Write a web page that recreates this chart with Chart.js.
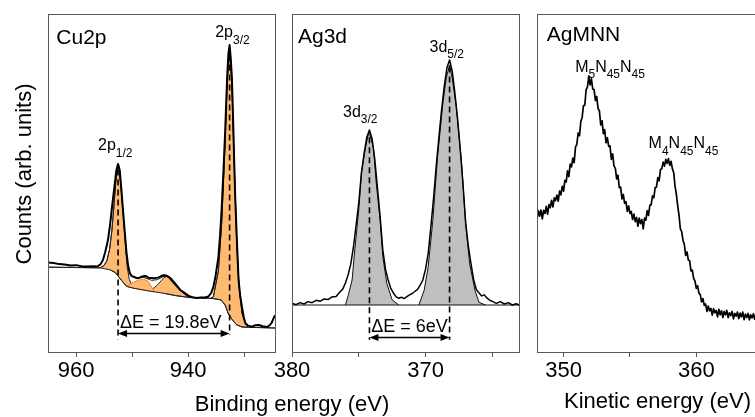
<!DOCTYPE html>
<html><head><meta charset="utf-8">
<script src="https://cdn.jsdelivr.net/npm/chart.js@4.4.0/dist/chart.umd.min.js"></script>
<style>
html,body{margin:0;padding:0;background:#fff;}
#wrap{position:relative;width:755px;height:417px;overflow:hidden;background:#fff;font-family:"Liberation Sans",Arial,sans-serif;color:#000;}
canvas{position:absolute;top:0;}
.t{position:absolute;font-size:22px;line-height:22px;height:22px;white-space:nowrap;text-align:center;}
</style></head><body>
<div id="wrap">
<canvas id="c1" width="287" height="417" style="left:18px"></canvas>
<canvas id="c2" width="287" height="417" style="left:262px"></canvas>
<canvas id="c3" width="287" height="417" style="left:507px"></canvas>
<div class="t" style="left:-101px;top:162.5px;width:250px;transform:rotate(-90deg);">Counts (arb. units)</div>
<div class="t" style="left:92px;top:392.9px;width:400px;">Binding energy (eV)</div>
<div class="t" style="left:457.5px;top:389.7px;width:400px;">Kinetic energy (eV)</div>
</div>
<script>
// ================= DATA =================
// tick values / labels
const cuTicks = [960, 950, 940, 930];
const cuTickLabels = [960, 940];
const agTicks = [380, 375, 370, 365];
const agTickLabels = [380, 370];
const mnnTicks = [350, 355, 360, 365];
const mnnTickLabels = [350, 360];

// Cu2p: [binding energy (eV), counts (arb.)]
const cuData = [[965.0,26.5],[964.0,26.3],[963.0,26.0],[962.0,25.9],[961.0,25.6],[960.0,25.7],[959.0,25.4],[958.0,25.3],[957.0,25.4],[956.2,25.3],[955.6,26.0],[955.2,27.2],[954.8,29.5],[954.3,33.1],[953.9,38.0],[953.5,44.0],[953.1,49.5],[952.8,53.8],[952.5,55.6],[952.2,53.8],[951.9,47.9],[951.6,41.5],[951.3,35.5],[951.0,29.5],[950.7,25.5],[950.4,23.3],[950.1,22.5],[949.6,22.2],[949.0,21.8],[948.5,22.1],[948.0,22.4],[947.6,22.5],[947.1,22.0],[946.6,21.9],[946.0,21.8],[945.4,22.0],[944.9,22.4],[944.4,22.7],[943.9,22.6],[943.4,22.1],[942.9,21.1],[942.4,20.2],[941.9,19.3],[941.4,18.3],[940.9,17.8],[940.4,17.2],[939.8,16.5],[939.2,16.2],[938.5,16.0],[937.8,16.1],[937.0,16.1],[936.4,16.4],[935.9,17.4],[935.5,19.2],[935.1,22.5],[934.6,28.1],[934.3,34.5],[934.0,42.9],[933.7,53.5],[933.4,64.8],[933.2,74.0],[933.0,82.5],[932.8,88.5],[932.6,90.8],[932.4,87.0],[932.2,81.4],[932.0,70.5],[931.8,57.7],[931.6,46.0],[931.3,33.1],[931.0,21.3],[930.7,16.5],[930.4,13.4],[930.1,10.5],[929.8,8.6],[929.3,7.8],[928.6,7.5],[928.0,7.9],[927.4,8.0],[926.7,7.6],[925.9,7.4],[925.4,8.0],[925.1,8.6],[924.8,9.8],[924.5,10.9]];
const cuBackground = [[965.0,25.1],[955.7,24.9],[953.9,24.3],[953.0,23.5],[952.5,22.5],[951.8,21.0],[950.95,19.4],[949.5,18.8],[946.8,18.0],[944.1,17.3],[942.3,16.7],[939.6,16.1],[935.5,15.8],[934.1,15.4],[933.4,13.9],[932.8,11.2],[932.1,9.5],[931.4,8.1],[930.4,7.4],[924.5,7.1]];
const cuFit = [[965,25.1],[955.7,24.9],[955,25.6],[954.5,27.0],[954,30.5],[953.6,36.0],[953.2,44.0],[952.9,50.5],[952.6,54.3],[952.45,55.0],[952.3,54.0],[952.0,49.5],[951.6,41.0],[951.2,32.8],[950.9,27.2],[950.5,24.0],[950.0,22.4],[949.3,21.8],[948.5,22.0],[948.0,22.1],[947.2,21.6],[946.5,21.2],[945.5,21.4],[944.5,22.2],[943.7,22.6],[943.0,21.9],[942.0,19.9],[941.0,17.6],[940.0,16.3],[938.0,16.0],[936.0,15.9],[935.5,16.3],[934.6,24.0],[934.0,38.5],[933.4,62.1],[933.0,81.4],[932.6,88.5],[932.2,80.5],[931.8,56.8],[931.3,31.1],[930.9,19.2],[930.4,11.6],[929.8,8.5],[929.3,7.3],[924.5,7.1]];
const cuPeak12 = [[955.7,24.9],[955.0,25.6],[954.5,27.0],[954.0,30.5],[953.6,36.0],[953.2,44.0],[952.9,50.5],[952.6,54.3],[952.45,55.0],[952.3,54.0],[952.0,49.5],[951.6,41.0],[951.2,32.0],[950.9,25.5],[950.5,21.5],[950.0,19.6],[949.5,18.8]];
const cuSat1 = [[950.95,19.4],[949.8,20.6],[948.9,21.2],[948.0,21.6],[947.1,20.9],[946.5,19.2],[946.0,17.8]];
const cuSat2 = [[946.8,18.0],[945.5,19.8],[944.3,22.0],[943.6,22.5],[943.0,21.9],[942.0,19.8],[940.8,17.4],[939.6,16.1]];
const cuPeak32 = [[936.0,15.9],[935.5,16.3],[934.6,24.0],[934.0,38.5],[933.4,62.1],[933.0,81.4],[932.6,88.5],[932.2,80.5],[931.8,56.8],[931.3,31.1],[930.9,19.2],[930.4,11.6],[929.8,8.5],[929.3,7.3]];

// Ag3d
const agData = [[380.0,14.4],[379.7,14.0],[379.4,14.6],[379.1,14.2],[378.8,14.9],[378.5,14.6],[378.2,15.3],[377.9,15.0],[377.6,15.7],[377.3,15.5],[377.0,16.3],[376.7,16.4],[376.4,17.8],[376.2,18.6],[376.0,20.4],[375.8,22.8],[375.6,26.0],[375.4,31.0],[375.2,37.5],[375.0,44.1],[374.8,53.0],[374.6,58.8],[374.4,63.5],[374.2,65.7],[374.0,63.0],[373.8,57.0],[373.6,48.5],[373.4,40.0],[373.2,30.2],[373.0,24.5],[372.8,21.3],[372.6,18.8],[372.4,17.4],[372.2,16.3],[372.0,15.9],[371.8,16.2],[371.6,15.8],[371.4,16.4],[371.2,16.9],[371.0,17.3],[370.8,17.9],[370.6,18.5],[370.4,19.8],[370.2,21.3],[370.0,24.5],[369.8,29.2],[369.6,37.0],[369.4,45.5],[369.2,55.0],[369.0,63.5],[368.8,71.5],[368.6,78.5],[368.4,84.0],[368.2,86.4],[368.0,83.0],[367.8,76.5],[367.6,69.0],[367.4,60.0],[367.2,50.0],[367.0,38.5],[366.8,31.5],[366.6,26.2],[366.4,21.5],[366.2,18.5],[366.0,17.5],[365.8,16.6],[365.6,16.9],[365.4,16.0],[365.2,15.3],[365.0,15.0],[364.7,14.4],[364.4,14.9],[364.1,14.2],[363.8,14.6],[363.5,13.9],[363.2,14.3],[363.0,13.9]];
const agBackground = [[380.0,13.9],[363.0,13.9]];
const agPeak32 = [[376.0,13.9],[375.8,16.6],[375.5,21.3],[375.3,30.2],[375.0,42.0],[374.8,52.9],[374.5,60.4],[374.3,64.2],[374.2,64.8],[373.9,60.4],[373.7,50.4],[373.4,39.0],[373.2,28.2],[372.9,20.3],[372.5,15.4],[372.0,13.9]];
const agPeak52 = [[370.5,13.9],[370.1,18.3],[369.8,25.2],[369.45,39.0],[369.1,57.8],[368.7,73.6],[368.45,81.0],[368.2,84.9],[368.0,81.0],[367.7,72.7],[367.3,55.8],[367.0,38.1],[366.7,26.2],[366.3,18.3],[366.0,14.7],[365.5,13.9]];

// AgMNN: [kinetic energy (eV), counts]
const mnnData = [[348.0,39.2],[348.1,41.8],[348.2,40.2],[348.3,42.0],[348.4,39.4],[348.5,41.9],[348.6,41.0],[348.7,43.1],[348.8,40.8],[348.9,43.6],[349.0,42.7],[349.1,44.9],[349.2,42.9],[349.3,45.6],[349.4,44.8],[349.5,46.4],[349.6,44.6],[349.7,47.6],[349.8,46.5],[349.9,49.0],[350.0,47.6],[350.1,50.8],[350.2,50.3],[350.3,53.6],[350.4,51.9],[350.5,55.6],[350.6,54.8],[350.7,57.4],[350.8,56.0],[350.9,60.6],[351.0,61.4],[351.1,64.8],[351.2,64.0],[351.3,68.2],[351.4,69.4],[351.5,72.9],[351.6,73.0],[351.7,77.6],[351.8,78.4],[351.9,81.6],[352.0,79.0],[352.1,80.8],[352.2,77.8],[352.3,77.6],[352.4,74.4],[352.5,75.6],[352.6,72.0],[352.7,71.4],[352.8,67.2],[352.9,68.4],[353.0,64.6],[353.1,65.8],[353.2,61.9],[353.3,63.4],[353.4,60.8],[353.5,61.0],[353.6,57.0],[353.7,58.6],[353.8,55.0],[353.9,54.4],[354.0,51.2],[354.1,52.3],[354.2,48.6],[354.3,48.8],[354.4,45.3],[354.5,46.6],[354.6,44.0],[354.7,44.5],[354.8,41.6],[354.9,43.2],[355.0,41.0],[355.1,41.6],[355.2,39.2],[355.3,40.8],[355.4,38.6],[355.5,39.8],[355.6,37.2],[355.7,39.6],[355.8,38.0],[355.9,39.2],[356.0,36.4],[356.1,39.6],[356.2,39.0],[356.3,41.8],[356.4,40.4],[356.5,43.4],[356.6,43.6],[356.7,46.2],[356.8,45.6],[356.9,48.6],[357.0,48.8],[357.1,51.6],[357.2,50.6],[357.3,54.0],[357.4,54.2],[357.5,56.2],[357.6,55.0],[357.7,57.0],[357.8,55.8],[357.9,57.2],[358.0,55.2],[358.1,56.4],[358.2,54.2],[358.3,53.0],[358.4,49.0],[358.5,46.6],[358.6,43.2],[358.7,40.4],[358.8,36.4],[358.9,35.6],[359.0,33.0],[359.1,31.8],[359.2,28.6],[359.3,29.6],[359.4,27.2],[359.5,27.0],[359.6,24.0],[359.7,24.2],[359.8,21.8],[359.9,21.0],[360.0,18.8],[360.1,19.6],[360.2,17.4],[360.3,17.0],[360.4,14.8],[360.5,15.8],[360.6,13.8],[360.7,14.2],[360.8,12.0],[360.9,13.6],[361.0,12.2],[361.1,12.9],[361.2,10.9],[361.3,12.8],[361.4,11.6],[361.5,12.3],[361.6,10.4],[361.7,12.6],[361.8,11.0],[361.9,12.2],[362.0,10.2],[362.1,12.0],[362.2,11.0],[362.3,12.3],[362.4,10.2],[362.5,11.6],[362.6,10.8],[362.7,12.0],[362.8,9.8],[362.9,11.4],[363.0,10.6],[363.1,11.8],[363.2,9.9],[363.3,11.5],[363.4,10.4],[363.5,11.8],[363.6,9.6],[363.7,11.2],[363.8,10.2],[363.9,11.4],[364.0,9.5],[364.1,11.0],[364.2,10.1],[364.3,11.3],[364.4,9.7],[364.5,11.1],[364.6,10.3],[364.7,11.5],[364.8,9.9],[364.9,11.0],[365.0,10.3],[365.1,10.9],[365.2,10.2]];

// peak markers: [energy, top of dashed line, bottom of dashed line]
const cuMarkers = [[952.5,54.0,3.6],[932.6,88.0,5.0]];
const agMarkers = [[374.2,63.5,3.6],[368.2,84.5,3.6]];
// splitting arrows: [from, to, level]
const cuSplit = [952.5, 932.6, 5.5];
const agSplit = [374.2, 368.2, 4.5];

// ================= RENDER =================
const FONT = '"Liberation Sans", Arial, sans-serif';
const ORANGE = '#FDBA70';
const GRAY = '#BFBFBF';
const pts = a => a.map(p => ({x: p[0], y: p[1]}));
function shape(top, bg) {
  const xs = top.map(p => p[0]);
  const lo = Math.min(...xs), hi = Math.max(...xs);
  const back = bg.filter(p => p[0] > lo && p[0] < hi).sort((a, b) => a[0] - b[0]);
  return pts(top.concat(back));
}
function line(data, color, width, extra) {
  return Object.assign({data: data, borderColor: color, borderWidth: width, pointRadius: 0, pointHoverRadius: 0,
    fill: false, tension: 0, borderJoinStyle: 'round', borderCapStyle: 'butt'}, extra || {});
}
function area(top, bg, fillColor, stroke) {
  return line(shape(top, bg), stroke, 1, {fill: 'shape', backgroundColor: fillColor});
}
function dashed(m) {
  return line(pts([[m[0], m[1]], [m[0], m[2]]]), '#000', 1.6, {borderDash: [6, 4]});
}

function makeDeco(cfg) {
  return {
    id: 'deco',
    afterDraw(chart) {
      const {ctx, chartArea: a, scales: {x, y}} = chart;
      ctx.save();
      // frame
      ctx.strokeStyle = '#5a5a5a'; ctx.lineWidth = 1;
      ctx.strokeRect(a.left + 0.5, a.top + 0.5, a.right - a.left, a.bottom - a.top);
      ctx.fillStyle = '#000';
      // tick labels
      ctx.font = '22px ' + FONT; ctx.textAlign = 'center'; ctx.textBaseline = 'alphabetic';
      cfg.tickLabels.forEach(v => ctx.fillText(String(v), x.getPixelForValue(v), a.bottom + 25));
      // panel title
      ctx.textAlign = 'left'; ctx.font = '21px ' + FONT;
      ctx.fillText(cfg.title, a.left + cfg.titleDx, a.top + cfg.titleDy);
      // peak labels with subscripts
      cfg.labels.forEach(L => {
        let px = x.getPixelForValue(L.x) + L.dx;
        const py = y.getPixelForValue(L.y) + L.dy;
        L.parts.forEach(([m, s]) => {
          ctx.font = '16px ' + FONT; ctx.fillText(m, px, py); px += ctx.measureText(m).width;
          if (s) { ctx.font = '12px ' + FONT; ctx.fillText(s, px, py + 6.5); px += ctx.measureText(s).width; }
        });
      });
      // splitting arrow
      if (cfg.split) {
        const s = cfg.split;
        const x1 = Math.min(x.getPixelForValue(s[0]), x.getPixelForValue(s[1]));
        const x2 = Math.max(x.getPixelForValue(s[0]), x.getPixelForValue(s[1]));
        const yy = Math.round(y.getPixelForValue(s[2])) + 0.5;
        const L = 9, H = 3.6;
        ctx.strokeStyle = '#000'; ctx.lineWidth = 1.5;
        ctx.beginPath(); ctx.moveTo(x1 + L - 1, yy); ctx.lineTo(x2 - L + 1, yy); ctx.stroke();
        ctx.beginPath(); ctx.moveTo(x1, yy); ctx.lineTo(x1 + L, yy - H); ctx.lineTo(x1 + L, yy + H); ctx.closePath(); ctx.fill();
        ctx.beginPath(); ctx.moveTo(x2, yy); ctx.lineTo(x2 - L, yy - H); ctx.lineTo(x2 - L, yy + H); ctx.closePath(); ctx.fill();
        ctx.font = '18px ' + FONT; ctx.textAlign = 'center';
        ctx.fillText(cfg.splitText, (x1 + x2) / 2 + cfg.splitDx, yy - 5.5);
      }
      ctx.restore();
    }
  };
}

function makeChart(id, xmin, xmax, reverse, ticks, datasets, cfg) {
  return new Chart(document.getElementById(id), {
    type: 'line',
    data: {datasets: datasets},
    options: {
      responsive: false, animation: false, devicePixelRatio: 1, events: [],
      layout: {padding: {left: 30, right: 30, top: 14, bottom: 0}},
      plugins: {legend: {display: false}, tooltip: {enabled: false}},
      scales: {
        x: {type: 'linear', min: xmin, max: xmax, reverse: reverse,
          afterBuildTicks: s => { s.ticks = ticks.map(v => ({value: v})); },
          afterFit: s => { s.height = 65; },
          ticks: {display: false},
          grid: {display: true, drawOnChartArea: false, drawTicks: true, tickLength: 5, color: '#555', lineWidth: 1},
          border: {display: false}},
        y: {type: 'linear', display: false, min: 0, max: 100}
      }
    },
    plugins: [makeDeco(cfg)]
  });
}

// Cu2p panel
makeChart('c1', 924.5, 965, true, cuTicks, [
  line(pts(cuData), '#000', 2),
  dashed(cuMarkers[0]), dashed(cuMarkers[1]),
  line(pts(cuFit), '#222', 1),
  line(pts(cuBackground), '#222', 1),
  area(cuSat1, cuBackground, ORANGE, '#EE8A1C'),
  area(cuSat2, cuBackground, ORANGE, '#333'),
  area(cuPeak12, cuBackground, ORANGE, '#222'),
  area(cuPeak32, cuBackground, ORANGE, '#222')
], {
  tickLabels: cuTickLabels, title: 'Cu2p', titleDx: 8.3, titleDy: 30,
  labels: [
    {x: 952.5, y: 55.6, dx: -20, dy: -14, parts: [['2p', '1/2']]},
    {x: 932.6, y: 90.8, dx: -14.4, dy: -8, parts: [['2p', '3/2']]}
  ],
  split: cuSplit, splitText: '\u0394E = 19.8eV', splitDx: -3
});

// Ag3d panel
makeChart('c2', 363, 380, true, agTicks, [
  line(pts(agData), '#000', 1.5),
  dashed(agMarkers[0]), dashed(agMarkers[1]),
  line(pts(agBackground), '#111', 1.2),
  area(agPeak32, agBackground, GRAY, '#111'),
  area(agPeak52, agBackground, GRAY, '#111')
], {
  tickLabels: agTickLabels, title: 'Ag3d', titleDx: 6, titleDy: 28.7,
  labels: [
    {x: 374.2, y: 65.7, dx: -26.4, dy: -13, parts: [['3d', '3/2']]},
    {x: 368.2, y: 86.4, dx: -20, dy: -8, parts: [['3d', '5/2']]}
  ],
  split: agSplit, splitText: '\u0394E = 6eV', splitDx: 0
});

// AgMNN panel
makeChart('c3', 348, 365.1, false, mnnTicks, [
  line(pts(mnnData), '#000', 1.7)
], {
  tickLabels: mnnTickLabels, title: 'AgMNN', titleDx: 9.7, titleDy: 26.7,
  labels: [
    {x: 351.95, y: 81.4, dx: -14.3, dy: -5, parts: [['M', '5'], ['N', '45'], ['N', '45']]},
    {x: 357.8, y: 56.3, dx: -18.5, dy: -13.4, parts: [['M', '4'], ['N', '45'], ['N', '45']]}
  ]
});
</script>
</body></html>
